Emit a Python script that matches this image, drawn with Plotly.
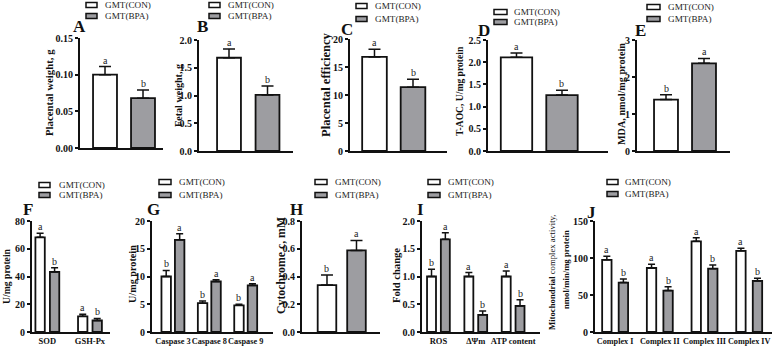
import plotly.graph_objects as go

FONT = "Liberation Serif"
W, H = 777, 348
CON_COLOR = "#ffffff"
BPA_COLOR = "#9d9da1"

# ---------------- data ----------------
series_names = ["GMT(CON)", "GMT(BPA)"]

A_groups = [""]
A_con = [0.100]; A_con_err = [0.011]; A_con_sig = ["a"]
A_bpa = [0.068]; A_bpa_err = [0.011]; A_bpa_sig = ["b"]

B_groups = [""]
B_con = [1.68]; B_con_err = [0.16]; B_con_sig = ["a"]
B_bpa = [1.01]; B_bpa_err = [0.16]; B_bpa_sig = ["b"]

C_groups = [""]
C_con = [16.8]; C_con_err = [1.35]; C_con_sig = ["a"]
C_bpa = [11.4]; C_bpa_err = [1.4]; C_bpa_sig = ["b"]

D_groups = [""]
D_con = [2.11]; D_con_err = [0.10]; D_con_sig = ["a"]
D_bpa = [1.26]; D_bpa_err = [0.11]; D_bpa_sig = ["b"]

E_groups = [""]
E_con = [1.39]; E_con_err = [0.13]; E_con_sig = ["b"]
E_bpa = [2.37]; E_bpa_err = [0.13]; E_bpa_sig = ["a"]

F_groups = ["SOD", "GSH-Px"]
F_con = [68.2, 11.3]; F_con_err = [3.0, 1.5]; F_con_sig = ["a", "a"]
F_bpa = [43.3, 8.3]; F_bpa_err = [3.0, 1.5]; F_bpa_sig = ["b", "b"]

G_groups = ["Caspase 3", "Caspase 8", "Caspase 9"]
G_con = [10.0, 5.2, 4.8]; G_con_err = [1.1, 0.4, 0.2]; G_con_sig = ["b", "b", "b"]
G_bpa = [16.6, 9.1, 8.4]; G_bpa_err = [1.1, 0.3, 0.3]; G_bpa_sig = ["a", "a", "a"]

H_groups = [""]
H_con = [0.338]; H_con_err = [0.072]; H_con_sig = ["b"]
H_bpa = [0.588]; H_bpa_err = [0.072]; H_bpa_sig = ["a"]

I_groups = ["ROS", "ΔΨm", "ATP content"]
I_con = [1.00, 1.00, 1.00]; I_con_err = [0.13, 0.07, 0.10]; I_con_sig = ["b", "a", "a"]
I_bpa = [1.67, 0.31, 0.47]; I_bpa_err = [0.12, 0.07, 0.11]; I_bpa_sig = ["a", "b", "b"]

J_groups = ["Complex I", "Complex II", "Complex III", "Complex IV"]
J_con = [97.5, 86.5, 122.5, 109.7]; J_con_err = [5.0, 5.0, 5.0, 3.5]; J_con_sig = ["a", "a", "a", "a"]
J_bpa = [66.8, 56.0, 85.6, 69.0]; J_bpa_err = [4.8, 5.0, 5.0, 3.5]; J_bpa_sig = ["b", "b", "b", "b"]

# y-axis titles (one entry per line)
y_titles = {
    "A": ["<b>Placental weight, g</b>"],
    "B": ["<b>Fetal weight, g</b>"],
    "C": ["<b>Placental efficiency</b>"],
    "D": ["<b>T-AOC, U/mg protein</b>"],
    "E": ["<b>MDA, nmol/mg protein</b>"],
    "F": ["<b>U/mg protein</b>"],
    "G": ["<b>U/mg protein</b>"],
    "H": ["<b>Cytochrome c, mM</b>"],
    "I": ["<b>Fold change</b>"],
    "J": ["<b>Mitochondrial</b> complex activity,", "<b>nmol/min/mg protein</b>"],
}

panel_data = {
    "A": (A_groups, A_con, A_con_err, A_con_sig, A_bpa, A_bpa_err, A_bpa_sig),
    "B": (B_groups, B_con, B_con_err, B_con_sig, B_bpa, B_bpa_err, B_bpa_sig),
    "C": (C_groups, C_con, C_con_err, C_con_sig, C_bpa, C_bpa_err, C_bpa_sig),
    "D": (D_groups, D_con, D_con_err, D_con_sig, D_bpa, D_bpa_err, D_bpa_sig),
    "E": (E_groups, E_con, E_con_err, E_con_sig, E_bpa, E_bpa_err, E_bpa_sig),
    "F": (F_groups, F_con, F_con_err, F_con_sig, F_bpa, F_bpa_err, F_bpa_sig),
    "G": (G_groups, G_con, G_con_err, G_con_sig, G_bpa, G_bpa_err, G_bpa_sig),
    "H": (H_groups, H_con, H_con_err, H_con_sig, H_bpa, H_bpa_err, H_bpa_sig),
    "I": (I_groups, I_con, I_con_err, I_con_sig, I_bpa, I_bpa_err, I_bpa_sig),
    "J": (J_groups, J_con, J_con_err, J_con_sig, J_bpa, J_bpa_err, J_bpa_sig),
}

# ---------------- layout / style (pixels) ----------------
style = {
    "A": dict(dom=(80, 163, 38, 148), xr=(-1.158, 1.026), w=0.63, g=0.37, ymax=0.15, dtick=0.05, fmt=".2f",
              tx=[49], tyc=[92], tfs=10.8, letter=(79, 27), leg=(86, 97, 5, 16, 103), cap=6),
    "B": dict(dom=(199, 293, 40, 151), xr=(-1.279, 1.162), w=0.62, g=0.38, ymax=2.0, dtick=0.5, fmt=".1f",
              tx=[178], tyc=[96], tfs=10.1, letter=(202, 27), leg=(209, 220, 5, 16, 226), cap=6),
    "C": dict(dom=(350, 447, 39, 151), xr=(-1.136, 1.383), w=0.64, g=0.36, ymax=20, dtick=5, fmt="d",
              tx=[326], tyc=[85], tfs=12.6, letter=(347, 29), leg=(356, 367, 6, 19, 373), cap=6),
    "D": dict(dom=(488, 608, 40, 151), xr=(-1.126, 1.511), w=0.69, g=0.31, ymax=2.5, dtick=0.5, fmt=".1f",
              tx=[459], tyc=[91], tfs=9.6, letter=(484, 31), leg=(494, 507, 12, 22, 512), cap=6),
    "E": dict(dom=(637, 730, 40, 151), xr=(-1.263, 1.184), w=0.63, g=0.37, ymax=3, dtick=1, fmt="d",
              tx=[621], tyc=[94], tfs=10.2, letter=(640, 30), leg=(647, 660, 7, 19, 666), cap=6),
    "F": dict(dom=(32, 110, 221, 332), xr=(-0.36, 1.47), w=0.22, g=0.12, ymax=80, dtick=20, fmt="d",
              tx=[6], tyc=[276], tfs=9.7, letter=(28, 209), leg=(39, 50, 185, 195, 57), cap=3.5),
    "G": dict(dom=(152, 273, 221, 332), xr=(-0.575, 2.75), w=0.26, g=0.11, ymax=20, dtick=5, fmt="d",
              tx=[132], tyc=[274], tfs=10.2, letter=(153, 209), leg=(159, 171, 182, 195, 177), cap=3.5),
    "H": dict(dom=(302, 380, 221, 332), xr=(-1.347, 1.297), w=0.63, g=0.37, ymax=0.8, dtick=0.2, fmt=".1f",
              tx=[281], tyc=[266], tfs=11.8, letter=(296, 209), leg=(315, 327, 182, 195, 333), cap=6),
    "I": dict(dom=(422, 540, 221, 332), xr=(-0.44, 2.72), w=0.24, g=0.13, ymax=2.0, dtick=0.5, fmt=".1f",
              tx=[396], tyc=[276], tfs=10.6, letter=(420, 209), leg=(428, 440, 182, 195, 446), cap=3.5),
    "J": dict(dom=(595, 772, 221, 332), xr=(-0.45, 3.51), w=0.21, g=0.16, ymax=150, dtick=50, fmt="d",
              tx=[552, 566], tyc=[272, 270], tfs=8.7, letter=(591, 213), leg=(607, 618, 182, 194, 623), cap=3.5),
}
cat_font = {"F": 8.5, "G": 8.3, "I": 8.5, "J": 8.2}


def PX(x):
    return x / W


def PY(y):
    return 1 - y / H


fig = go.Figure()
annotations = []
shapes = []
layout_axes = {}
INK = "#111111"

for i, pid in enumerate(style, start=1):
    st = style[pid]
    groups, con, con_err, con_sig, bpa, bpa_err, bpa_sig = panel_data[pid]
    xa, ya = f"x{i}", f"y{i}"
    w, g = st["w"], st["g"]
    offs = [-g / 2 - w, g / 2]
    series = [
        (series_names[0], con, con_err, con_sig, CON_COLOR),
        (series_names[1], bpa, bpa_err, bpa_sig, BPA_COLOR),
    ]
    for (name, vals, errs, sigs, col), off in zip(series, offs):
        fig.add_trace(go.Bar(
            x=groups, y=vals, name=name, xaxis=xa, yaxis=ya,
            width=w, offset=off, showlegend=False,
            marker=dict(color=col, line=dict(color=INK, width=1.8)),
            error_y=dict(type="data", array=errs, arrayminus=[0] * len(errs), symmetric=False,
                         color=INK, thickness=1.5, width=st["cap"]),
        ))
        for k, (v, e, s) in enumerate(zip(vals, errs, sigs)):
            annotations.append(dict(
                x=k + off + w / 2, y=v + e, xref=xa, yref=ya, text=s, showarrow=False,
                xanchor="center", yanchor="bottom", yshift=-1,
                font=dict(family=FONT, size=10, color="#222222"),
            ))

    x0, x1, y0, y1 = st["dom"]
    bottom_row = pid in cat_font
    layout_axes[f"xaxis{i}"] = dict(
        domain=[PX(x0), PX(x1)], anchor=ya, type="category", range=list(st["xr"]),
        showline=True, linecolor=INK, linewidth=2, ticks="", showgrid=False, zeroline=False,
        showticklabels=bottom_row, tickangle=0,
        tickfont=dict(family=FONT, size=cat_font.get(pid, 9), color=INK, weight="bold"),
        fixedrange=True,
    )
    layout_axes[f"yaxis{i}"] = dict(
        domain=[PY(y1), PY(y0)], anchor=xa, range=[0, st["ymax"]], dtick=st["dtick"], tick0=0,
        tickformat=st["fmt"], showline=True, linecolor=INK, linewidth=2,
        ticks="outside", ticklen=3, tickwidth=1.5, tickcolor=INK,
        showgrid=False, zeroline=False,
        tickfont=dict(family=FONT, size=10, color=INK, weight="bold"),
        fixedrange=True,
    )

    # y-axis title (one annotation per line)
    for line, tx, ty in zip(y_titles[pid], st["tx"], st["tyc"]):
        annotations.append(dict(
            x=PX(tx), y=PY(ty), xref="paper", yref="paper", text=line,
            textangle=-90, showarrow=False, xanchor="center", yanchor="middle",
            font=dict(family=FONT, size=st["tfs"], color=INK),
        ))
    # panel letter
    lx, ly = st["letter"]
    annotations.append(dict(
        x=PX(lx), y=PY(ly), xref="paper", yref="paper", text=f"<b>{pid}</b>", showarrow=False,
        xanchor="center", yanchor="middle", font=dict(family=FONT, size=17, color=INK),
    ))
    # legend
    sx0, sx1, ly1, ly2, ltx = st["leg"]
    for name, col, yy in ((series_names[0], CON_COLOR, ly1), (series_names[1], BPA_COLOR, ly2)):
        shapes.append(dict(
            type="rect", xref="paper", yref="paper", x0=PX(sx0), x1=PX(sx1), y0=PY(yy + 2.5), y1=PY(yy - 2.5),
            fillcolor=col, line=dict(color=INK, width=1.5),
        ))
        annotations.append(dict(
            x=PX(ltx), y=PY(yy), xref="paper", yref="paper", text=name, showarrow=False,
            xanchor="left", yanchor="middle", font=dict(family=FONT, size=9.2, color="#222222"),
        ))

fig.update_layout(
    template="none",
    width=W, height=H, margin=dict(l=0, r=0, t=0, b=0),
    paper_bgcolor="white", plot_bgcolor="white", barmode="overlay",
    annotations=annotations, shapes=shapes, showlegend=False,
    font=dict(family=FONT, color=INK),
    **layout_axes,
)

fig.write_html(
    "out.html",
    config={"displayModeBar": False},
    post_script="document.body.style.margin='0';document.body.style.overflow='hidden';",
)
